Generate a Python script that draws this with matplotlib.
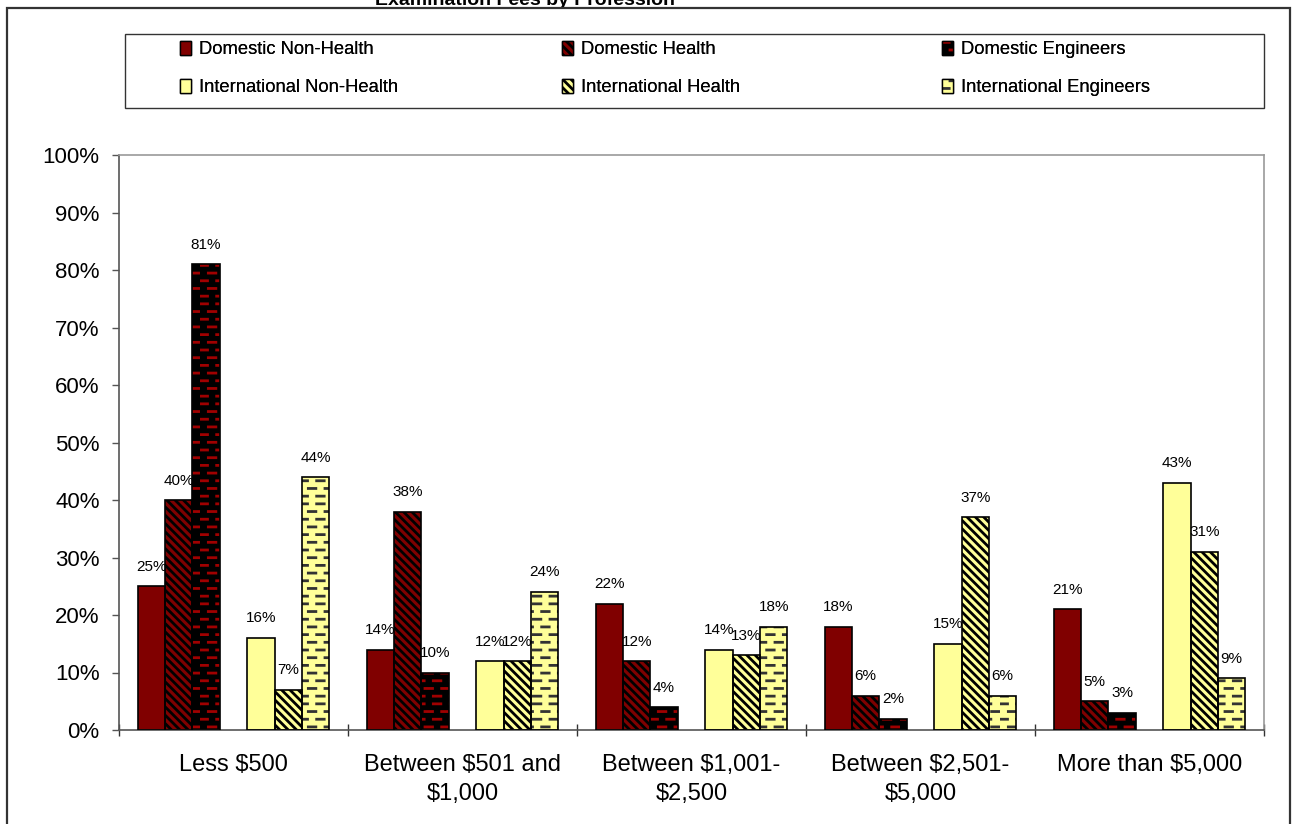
import numpy as np
import matplotlib
matplotlib.use("Agg")
import matplotlib.pyplot as plt
import matplotlib.hatch as mhatch
from matplotlib.path import Path
from matplotlib.patches import Patch, Rectangle
from matplotlib.ticker import FixedLocator, FuncFormatter

# ---------------- data ----------------
categories = ["Less $500", "Between $501 and\n$1,000", "Between $1,001-\n$2,500",
              "Between $2,501-\n$5,000", "More than $5,000"]
series_names = ["Domestic Non-Health", "Domestic Health", "Domestic Engineers",
                "International Non-Health", "International Health", "International Engineers"]
domestic_non_health = [25, 14, 22, 18, 21]
domestic_health = [40, 38, 12, 6, 5]
domestic_engineers = [81, 10, 4, 2, 3]
international_non_health = [16, 12, 14, 15, 43]
international_health = [7, 12, 13, 37, 31]
international_engineers = [44, 24, 18, 6, 9]
y_ticks = [0, 10, 20, 30, 40, 50, 60, 70, 80, 90, 100]
title = "Examination Fees by Profession"


# ---------------- dashed hatch (Excel-like "dashed horizontal") ----------------
class DashHatch(mhatch.HatchPatternBase):
    def __init__(self, hatch, density):
        n = hatch.count('-')
        self.num_rows = 13 if n else 0
        self.num_cols = 6
        self.num_vertices = self.num_rows * self.num_cols * 2

    def set_vertices_and_codes(self, vertices, codes):
        k = 0
        dy = 1.0 / self.num_rows
        dx = 1.0 / self.num_cols
        dash = dx * 0.45
        for r in range(self.num_rows):
            y = (r + 0.5) * dy
            off = 0.0 if r % 2 == 0 else dx / 2
            for c in range(self.num_cols):
                x0 = (c * dx + off) % 1.0
                x1 = min(x0 + dash, 1.0)
                vertices[k] = (x0, y)
                vertices[k + 1] = (x1, y)
                codes[k] = Path.MOVETO
                codes[k + 1] = Path.LINETO
                k += 2


mhatch._hatch_types[0] = DashHatch

plt.rcParams['font.family'] = ['Liberation Sans', 'DejaVu Sans']
plt.rcParams['hatch.linewidth'] = 2.0

DARK_RED = '#800000'
YELLOW = '#FFFF99'
DIAG = '\\' * 4

styles = [
    dict(face=DARK_RED, hatch=None, hcol=DARK_RED),
    dict(face=DARK_RED, hatch=DIAG, hcol='black'),
    dict(face='black', hatch='-', hcol='#A00000'),
    dict(face=YELLOW, hatch=None, hcol=YELLOW),
    dict(face=YELLOW, hatch=DIAG, hcol='black'),
    dict(face=YELLOW, hatch='-', hcol='#333333'),
]
series = [domestic_non_health, domestic_health, domestic_engineers,
          international_non_health, international_health, international_engineers]

W, H = 1296, 824
fig = plt.figure(figsize=(W / 100, H / 100), dpi=100)
ax = fig.add_axes([119 / W, 1 - 730 / H, (1264 - 119) / W, (730 - 155) / H])

x = np.arange(len(categories))
bw = 0.1197
offsets = [-3, -2, -1, 1, 2, 3]

for vals, st, off in zip(series, styles, offsets):
    pos = x + off * bw
    cont = ax.bar(pos, vals, width=bw, color=st['face'], hatch=st['hatch'],
                  edgecolor=st['hcol'], linewidth=0, zorder=2)
    ax.bar(pos, vals, width=bw, facecolor='none', edgecolor='black',
           linewidth=1.2, zorder=3)
    ax.bar_label(cont, labels=[f"{v}%" for v in vals], padding=9, fontsize=11,
                 zorder=4)

ax.set_xlim(-0.5, len(categories) - 0.5)
ax.set_ylim(0, 100)
ax.yaxis.set_major_locator(FixedLocator(y_ticks))
ax.yaxis.set_major_formatter(FuncFormatter(lambda v, p: f"{v:.0f}%"))
ax.tick_params(axis='y', direction='out', length=5, width=1, color='#555555',
               labelsize=16, pad=9)

ax.set_xticks(x)
ax.set_xticklabels(categories, fontsize=17, linespacing=1.42)
ax.set_xticks(np.arange(-0.5, len(categories), 1.0), minor=True)
ax.tick_params(axis='x', which='major', length=0, pad=17)
ax.tick_params(axis='x', which='minor', direction='inout', length=9, width=1,
               color='#333333')

for s in ['left', 'bottom']:
    ax.spines[s].set_color('#555555')
    ax.spines[s].set_linewidth(1.2)
for s in ['top', 'right']:
    ax.spines[s].set_color('#999999')
    ax.spines[s].set_linewidth(1.2)

# outer chart frame
fig.add_artist(Rectangle((7 / W, -0.1), (1290 - 7) / W, 1 - 8 / H + 0.1,
                         transform=fig.transFigure, fill=False,
                         edgecolor='#333333', linewidth=1.6, zorder=5))
# legend frame
fig.add_artist(Rectangle((125 / W, 1 - 108 / H), (1264 - 125) / W, 74 / H,
                         transform=fig.transFigure, fill=False,
                         edgecolor='#333333', linewidth=1.0, zorder=5))

# title (partially cut off at the top, as in the reference)
fig.text(525 / W, 1 - 5 / H, title, ha='center', va='baseline',
         fontsize=14, fontweight='bold')

# legend: three columns, two rows
handles = []
for st in styles:
    handles.append((Patch(facecolor=st['face'], hatch=st['hatch'],
                          edgecolor=st['hcol'], linewidth=0),
                    Patch(facecolor='none', edgecolor='black', linewidth=1.0)))

col_x = [180, 562, 942]
for c in range(3):
    leg = fig.legend([handles[c], handles[c + 3]],
                     [series_names[c], series_names[c + 3]],
                     loc='center left', bbox_to_anchor=(col_x[c] / W, 1 - 68.5 / H),
                     bbox_transform=fig.transFigure, frameon=False,
                     fontsize=13.2, handlelength=0.6, handleheight=0.85,
                     handletextpad=0.45, labelspacing=1.1, borderpad=0,
                     borderaxespad=0)
    fig.add_artist(leg)

fig.savefig("out.png", dpi=100)
